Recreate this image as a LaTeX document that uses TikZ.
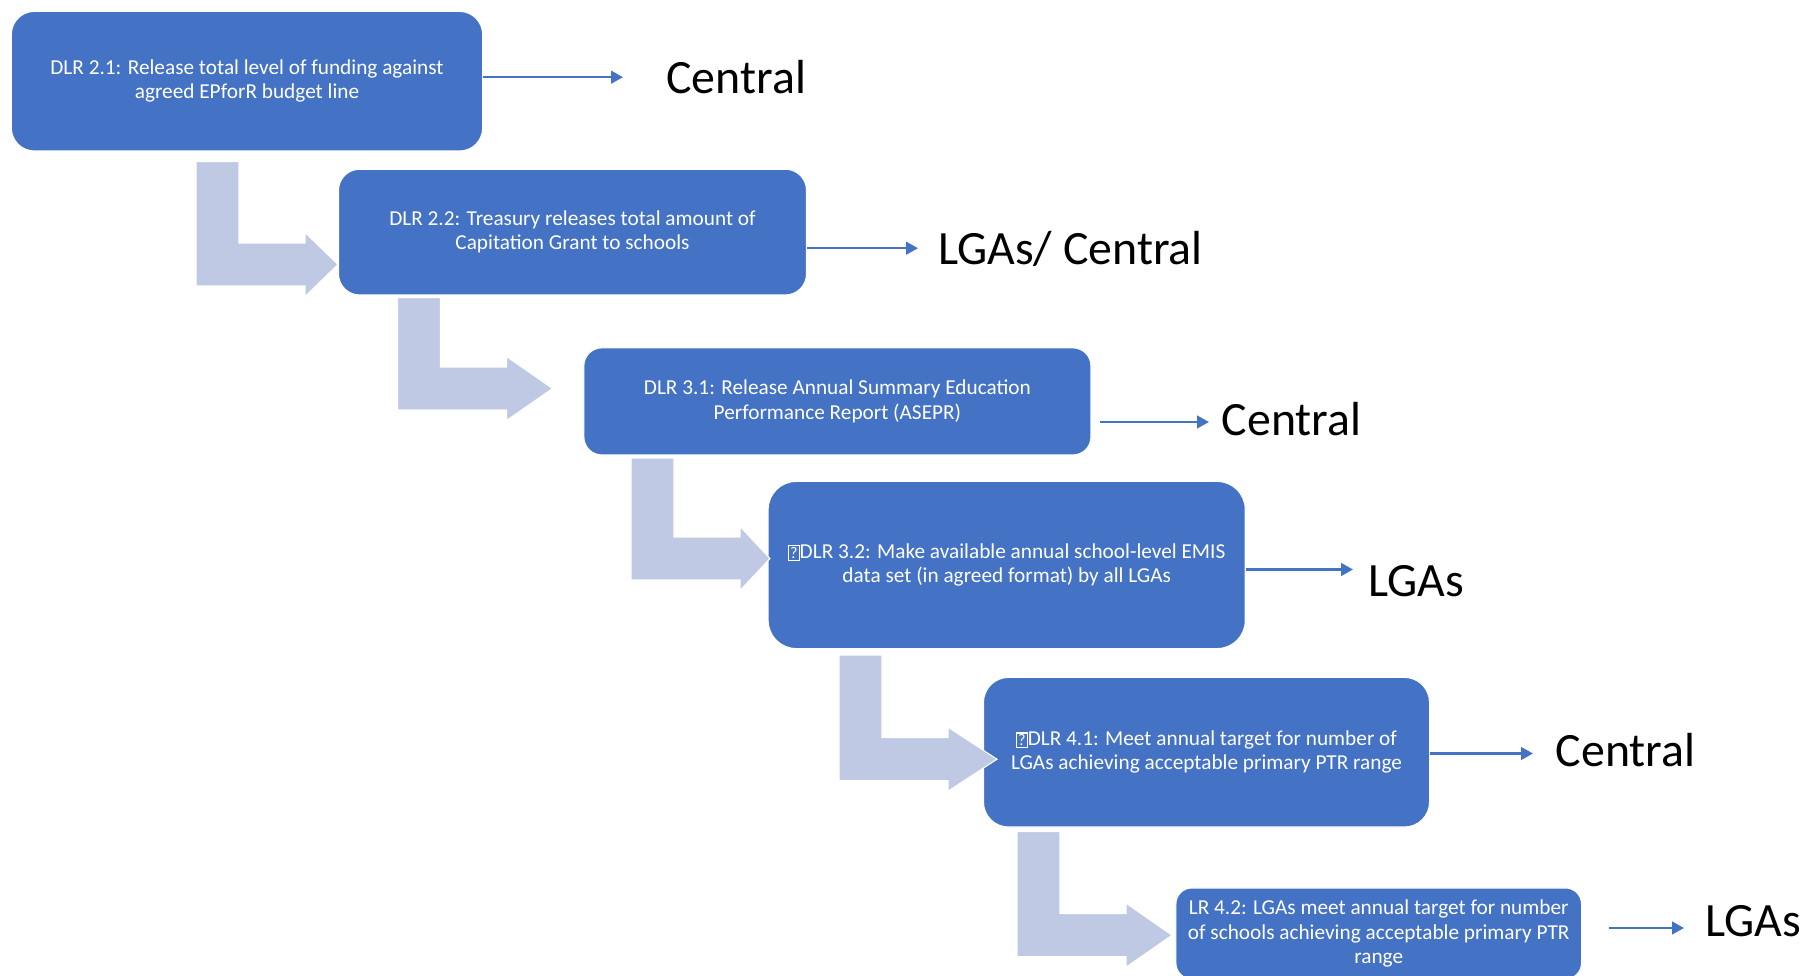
\documentclass[tikz,border=0pt]{standalone}
\usepackage{fontspec}
\setmainfont{Carlito}
\usepackage{tikz}
\usetikzlibrary{arrows.meta,positioning}
\definecolor{boxblue}{RGB}{68,114,196}
\definecolor{bendgray}{RGB}{191,201,228}

% missing glyph as printed in the source
\newcommand{\nochar}{{\setlength{\fboxsep}{0.3pt}\setlength{\fboxrule}{0.3pt}\fbox{\fontsize{4.6}{4.6}\selectfont ?}}}
% bent arrow: #1 left x, #2 top y, #3 bottom y, #4 head length
\newcommand{\bendarrow}[4]{%
  \filldraw[bendshape] (#1,#2) -- (#1+43,#2) -- (#1+43,#3-43) -- (#1+109,#3-43)
    -- (#1+109,#3-53.5) -- (#1+109+#4,#3-21.5) -- (#1+109,#3+10.5)
    -- (#1+109,#3) -- (#1,#3) -- cycle;}

\begin{document}
\begin{tikzpicture}[
  x=0.01cm, y=-0.01cm,
  dlr/.style={rectangle, rounded corners=#1, fill=boxblue, draw=white, line width=0.3pt,
    text=white, align=center, inner sep=0pt, font=\fontsize{6.05}{6.9}\selectfont},
  dlr/.default=0.2cm,
  lvl/.style={anchor=west, inner sep=0pt, font=\fontsize{13.6}{16}\selectfont},
  flow/.style={draw=boxblue, line width=0.65pt, -{Triangle[length=3.4pt,width=3.6pt]}},
  bendshape/.style={fill=bendgray, draw=white, line width=0.3pt}
]
  \useasboundingbox (0,0) rectangle (1806,976);
  \clip (0,0) rectangle (1806,976);

  % boxes
  \node[dlr=0.23cm, minimum width=4.71cm, minimum height=1.395cm] (b1) at (247,81.2)
    {DLR 2.1: Release total level of funding against\\agreed EPforR budget line};
  \node[dlr=0.21cm, minimum width=4.677cm, minimum height=1.256cm] (b2) at (572.5,232.1)
    {DLR 2.2: Treasury releases total amount of\\Capitation Grant to schools};
  \node[dlr=0.18cm, minimum width=5.068cm, minimum height=1.07cm] (b3) at (837.4,401.4)
    {DLR 3.1: Release Annual Summary Education\\Performance Report (ASEPR)};
  \node[dlr=0.28cm, minimum width=4.768cm, minimum height=1.67cm] (b4) at (1006.7,565)
    {\nochar DLR 3.2: Make available annual school-level EMIS\\data set (in agreed format) by all LGAs};
  \node[dlr=0.25cm, minimum width=4.458cm, minimum height=1.495cm] (b5) at (1206.5,752.2)
    {\nochar DLR 4.1: Meet annual target for number of\\LGAs achieving acceptable primary PTR range};
  \node[dlr=0.16cm, minimum width=4.054cm, minimum height=0.91cm] (b6) at (1378.7,933.5)
    {LR 4.2: LGAs meet annual target for number\\of schools achieving acceptable primary PTR\\range};

  % levels
  \node[lvl] (c1) at (665.7,77.2) {Central};
  \node[lvl] (c2) at (937.6,248.8) {LGAs/ Central};
  \node[lvl] (c3) at (1221,419) {Central};
  \node[lvl] (c4) at (1368,581.6) {LGAs};
  \node[lvl] (c5) at (1555,750) {Central};
  \node[lvl] (c6) at (1704.7,921) {LGAs};

  \coordinate (t1) at (623,77.2);
  \coordinate (t2) at (918,248.2);
  \coordinate (t3) at (1209,422);
  \coordinate (t4) at (1353,569.5);
  \coordinate (t5) at (1533,753.5);
  \coordinate (t6) at (1684,928);

  \draw[flow] (b1.east |- t1) -- (t1);
  \draw[flow] (b2.east |- t2) -- (t2);
  \draw[flow, shorten <=0.09cm] (b3.east |- t3) -- (t3);
  \draw[flow] (b4.east |- t4) -- (t4);
  \draw[flow] (b5.east |- t5) -- (t5);
  \draw[flow, shorten <=0.27cm] (b6.east |- t6) -- (t6);

  % bent arrows between steps
  \bendarrow{196}{161.5}{286}{33}
  \bendarrow{397.5}{297.5}{410}{46}
  \bendarrow{631}{458}{580}{30}
  \bendarrow{839}{655}{780.7}{49}
  \bendarrow{1017}{831.7}{956.7}{46}
\end{tikzpicture}
\end{document}
